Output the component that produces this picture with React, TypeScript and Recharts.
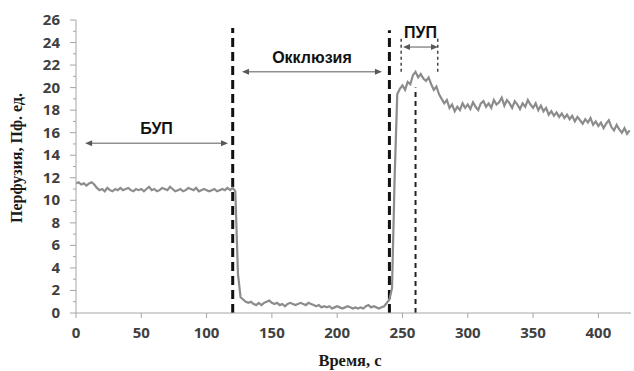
import React from 'react';
import { LineChart, Line, XAxis, YAxis, ReferenceLine } from 'recharts';

// perfusion samples, one every 2 s starting at t = 0
const perfusion: number[] = [
  11.5, 11.6, 11.4, 11.5, 11.3, 11.5, 11.6, 11.4, 11.1, 10.9,
  11.0, 10.8, 11.1, 10.9, 10.8, 11.0, 10.9, 11.1, 10.9, 11.0,
  11.1, 10.9, 10.8, 11.0, 10.9, 11.0, 10.8, 11.0, 11.2, 10.9,
  11.0, 10.8, 10.9, 11.1, 11.0, 10.9, 11.2, 11.0, 10.8, 10.9,
  11.0, 10.8, 10.9, 11.1, 11.0, 10.9, 11.1, 10.8, 10.9, 11.0,
  10.9, 10.8, 10.9, 11.0, 10.8, 10.9, 11.0, 10.9, 11.1, 10.9,
  11.1, 10.8, 3.5, 1.4, 1.2, 1.0, 0.9, 1.0, 0.8, 0.7,
  0.9, 0.7, 0.9, 1.0, 1.1, 0.9, 0.8, 0.9, 0.7, 0.8,
  0.6, 0.8, 0.9, 0.8, 0.7, 0.8, 0.9, 0.8, 0.7, 0.9,
  0.8, 0.7, 0.6, 0.7, 0.5, 0.6, 0.5, 0.6, 0.4, 0.5,
  0.6, 0.5, 0.4, 0.5, 0.6, 0.5, 0.4, 0.5, 0.4, 0.5,
  0.4, 0.6, 0.7, 0.5, 0.6, 0.5, 0.4, 0.5, 0.6, 0.9,
  1.2, 2.2, 12.0, 19.4, 19.9, 20.2, 19.8, 20.5, 20.3, 21.1,
  21.4, 20.9, 21.2, 20.8, 20.6, 20.9, 20.3, 19.8, 20.1, 19.4,
  19.0, 18.6, 18.9, 18.2, 18.5, 17.9, 18.3, 18.0, 18.6, 18.2,
  18.5, 18.1, 18.7, 18.3, 18.0, 18.6, 18.8, 18.3, 18.6, 18.2,
  18.9, 18.5, 18.7, 19.1, 18.4, 18.9, 18.6, 18.2, 18.8, 18.5,
  18.1, 18.6, 18.3, 18.9, 18.5, 18.2, 18.6, 18.0, 18.4, 17.9,
  18.2, 17.6, 17.9, 17.5, 17.8, 17.4, 17.7, 17.3, 17.6, 17.2,
  17.5, 17.0, 17.4, 17.1, 16.8, 17.2, 16.9, 17.3, 16.7, 17.0,
  16.6, 16.9, 16.4, 16.8, 17.1, 16.5, 16.2, 16.7, 16.3, 16.0,
  16.4, 15.9, 16.2,
];
const sampleStep = 2;

const xTicks = [0, 50, 100, 150, 200, 250, 300, 350, 400];
const yTicks = [0, 1, 2, 3, 4, 5, 6, 7, 8, 9, 10, 11, 12, 13, 14, 15, 16, 17, 18, 19, 20, 21, 22, 23, 24, 25, 26];

// phase markers
const occlusionStart = 120;
const occlusionEnd = 240;
const peakTime = 260;

const data = perfusion.map((v, i) => ({ t: i * sampleStep, v }));

const axisColor = '#a6a6a6';
const tickFont = "'Open Sans', 'DejaVu Sans', sans-serif";

const YTick = (props: any) => {
  const { x, y, payload } = props;
  const val = payload.value as number;
  const major = val % 2 === 0;
  return (
    <g>
      <line x1={major ? x + 10 : x + 13} x2={x + 16} y1={y} y2={y} stroke={axisColor} />
      {major && (
        <text x={x} y={y} dy={5} textAnchor='end' fontSize={15} fontWeight={700} fill='#404040' fontFamily={tickFont}>
          {val}
        </text>
      )}
    </g>
  );
};

const ArrowShape = (props: any) => {
  const { x1, y1, x2, y2, text } = props;
  const c = '#595959';
  return (
    <g>
      <line x1={x1 + 5} y1={y1} x2={x2 - 5} y2={y2} stroke={c} strokeWidth={1} />
      <polygon points={`${x1},${y1} ${x1 + 7},${y1 - 3} ${x1 + 7},${y1 + 3}`} fill={c} />
      <polygon points={`${x2},${y2} ${x2 - 7},${y2 - 3} ${x2 - 7},${y2 + 3}`} fill={c} />
      <text
        x={(x1 + x2) / 2}
        y={y1 - 9}
        textAnchor='middle'
        fontSize={16}
        fontWeight={700}
        fill='#111'
        fontFamily="'Liberation Sans', Arial, sans-serif"
      >
        {text}
      </text>
    </g>
  );
};

const App: React.FC = () => {
  return (
    <div style={{ position: 'absolute', left: 0, top: 0, background: '#fff' }}>
      <LineChart width={634} height={371} data={data} margin={{ top: 20, right: 3, bottom: 0, left: 0 }}>
        <XAxis
          dataKey='t'
          type='number'
          domain={[0, 425]}
          ticks={xTicks}
          allowDataOverflow
          stroke={axisColor}
          tickSize={5}
          tickMargin={9}
          height={58}
          tick={{ fontSize: 15, fontWeight: 700, fill: '#404040', fontFamily: tickFont }}
          label={{
            content: () => (
              <text x={350} y={366} textAnchor='middle' fontSize={16.5} fontWeight={700} fill='#1a1a1a' fontFamily="'Liberation Serif', serif">
                Время, с
              </text>
            ),
          }}
        />
        <YAxis
          type='number'
          domain={[0, 26]}
          ticks={yTicks}
          interval={0}
          width={76}
          stroke={axisColor}
          tickLine={false}
          tickSize={6}
          tickMargin={10}
          tick={<YTick />}
          label={{
            content: () => (
              <text
                transform='translate(22,158) rotate(-90)'
                textAnchor='middle'
                fontSize={16}
                fontWeight={700}
                fill='#1a1a1a'
                fontFamily="'Liberation Serif', serif"
              >
                Перфузия, Пф. ед.
              </text>
            ),
          }}
        />
        <ReferenceLine
          segment={[{ x: occlusionStart, y: 0 }, { x: occlusionStart, y: 25.3 }]}
          stroke='#111'
          strokeWidth={3}
          strokeDasharray='9 5'
        />
        <ReferenceLine
          segment={[{ x: occlusionEnd, y: 0 }, { x: occlusionEnd, y: 25.1 }]}
          stroke='#111'
          strokeWidth={3}
          strokeDasharray='9 5'
        />
        <ReferenceLine
          segment={[{ x: peakTime, y: 0 }, { x: peakTime, y: 20 }]}
          stroke='#222'
          strokeWidth={2}
          strokeDasharray='5 4'
        />
        <ReferenceLine
          segment={[{ x: 249, y: 21.4 }, { x: 249, y: 24.4 }]}
          stroke='#444'
          strokeWidth={1.5}
          strokeDasharray='3 3'
        />
        <ReferenceLine
          segment={[{ x: 277, y: 21.4 }, { x: 277, y: 24.4 }]}
          stroke='#444'
          strokeWidth={1.5}
          strokeDasharray='3 3'
        />
        <Line
          type='linear'
          dataKey='v'
          stroke='#8c8c8c'
          strokeWidth={2.2}
          dot={false}
          isAnimationActive={false}
        />
        <ReferenceLine
          segment={[{ x: 7, y: 15.07 }, { x: 116.4, y: 15.07 }]}
          shape={(p: any) => <ArrowShape {...p} text='БУП' />}
        />
        <ReferenceLine
          segment={[{ x: 127.1, y: 21.4 }, { x: 234.3, y: 21.4 }]}
          shape={(p: any) => <ArrowShape {...p} text='Окклюзия' />}
        />
        <ReferenceLine
          segment={[{ x: 250.4, y: 23.6 }, { x: 277.2, y: 23.6 }]}
          shape={(p: any) => <ArrowShape {...p} text='ПУП' />}
        />
      </LineChart>
    </div>
  );
};

export default App;
